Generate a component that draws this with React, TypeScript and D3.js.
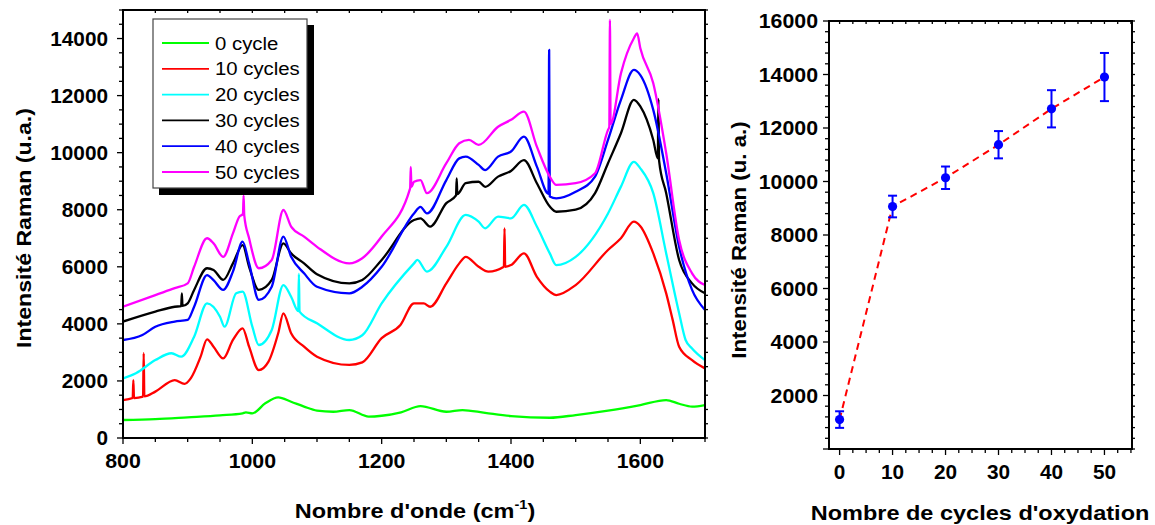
import React from 'react';
import * as d3 from 'd3';

type P = [number, number];

// ---- Left chart: Raman spectra (wavenumber cm-1, intensity u.a.) ----
const spectrum0: P[] = [[800,630],[850,660],[900,725],[950,795],[985,865],[990,900],[1000,865],[1020,1215],[1040,1425],[1060,1270],[1080,1100],[1100,960],[1125,920],[1150,980],[1180,750],[1200,780],[1230,900],[1260,1120],[1300,920],[1325,980],[1360,880],[1400,770],[1460,710],[1500,805],[1550,960],[1600,1155],[1640,1330],[1660,1200],[1680,1100],[1700,1155]];
const spectrum10: P[] = [[800,1330],[815,1400],[816,2030],[817,1400],[831,1450],[832,2970],[833,1460],[850,1625],[880,2030],[895,1900],[905,2100],[920,2850],[930,3460],[940,3200],[955,2790],[970,3435],[985,3845],[995,3200],[1010,2380],[1025,2675],[1040,3670],[1048,4370],[1060,3670],[1080,3200],[1100,2850],[1150,2560],[1170,2650],[1200,3500],[1229,3960],[1250,4720],[1265,4720],[1275,4600],[1300,5420],[1320,6120],[1330,6350],[1350,6000],[1365,5830],[1389,6000],[1390,7350],[1391,6000],[1400,6060],[1420,6470],[1440,5650],[1460,5130],[1470,5010],[1500,5360],[1550,6590],[1570,7000],[1590,7580],[1600,7420],[1620,6470],[1640,5070],[1650,4140],[1660,3200],[1680,2730],[1700,2440]];
const spectrum20: P[] = [[800,2090],[820,2270],[850,2730],[875,2970],[890,2850],[910,3550],[930,4720],[950,4250],[957,3900],[975,5070],[985,5130],[1000,3900],[1010,3260],[1030,3785],[1048,5360],[1060,4950],[1071,4450],[1072,5750],[1073,4430],[1100,4020],[1150,3435],[1170,3600],[1200,4720],[1250,6120],[1255,6240],[1270,5830],[1300,6700],[1330,7820],[1350,7580],[1360,7350],[1380,7760],[1400,7700],[1420,8170],[1440,7410],[1460,6470],[1470,6060],[1500,6350],[1550,7870],[1570,8810],[1590,9680],[1600,9450],[1620,8580],[1640,6470],[1660,4370],[1670,3435],[1680,3140],[1700,2730]];
const spectrum30: P[] = [[800,4080],[850,4430],[880,4600],[890,4620],[891,5070],[892,4630],[900,4720],[910,5190],[930,5950],[940,5890],[955,5540],[970,6120],[985,6760],[995,6000],[1010,5190],[1030,5540],[1048,6820],[1060,6470],[1080,6120],[1100,5740],[1150,5420],[1170,5540],[1200,6240],[1250,7640],[1260,7700],[1275,7410],[1300,8230],[1315,8500],[1316,9100],[1317,8550],[1330,8930],[1350,8980],[1360,8800],[1380,9160],[1400,9360],[1420,9740],[1440,8930],[1460,8110],[1470,7930],[1500,8000],[1530,8580],[1550,9630],[1570,10680],[1590,11850],[1600,11620],[1620,10445],[1627,9800],[1628,11880],[1629,9720],[1640,8580],[1660,6240],[1680,5420],[1700,5070]];
const spectrum40: P[] = [[800,3435],[830,3610],[850,3900],[880,4080],[900,4140],[910,4600],[930,5710],[940,5530],[955,5190],[970,5830],[985,6880],[995,6120],[1010,4840],[1030,5300],[1048,7060],[1060,6350],[1080,5770],[1100,5300],[1150,5070],[1170,5300],[1200,6000],[1250,7870],[1260,8100],[1270,7870],[1300,9040],[1320,9800],[1330,9860],[1350,9570],[1360,9390],[1380,9860],[1400,10040],[1420,10560],[1440,9510],[1458,8560],[1459,13600],[1460,8460],[1470,8400],[1500,8630],[1530,9160],[1550,10445],[1570,11850],[1590,12900],[1600,12720],[1620,11500],[1640,9280],[1660,6700],[1680,5190],[1700,4490]];
const spectrum50: P[] = [[800,4600],[850,5010],[880,5250],[900,5420],[910,6000],[930,7000],[940,6820],[955,6350],[970,7170],[980,7760],[985.5,7850],[986.5,8500],[987.5,7800],[995,7000],[1010,5950],[1030,6240],[1048,7990],[1060,7410],[1080,7060],[1100,6700],[1150,6120],[1170,6300],[1200,7060],[1244,8750],[1245,9500],[1246,8800],[1250,8980],[1260,9040],[1270,8580],[1300,9630],[1320,10330],[1335,10450],[1350,10270],[1380,10910],[1400,11150],[1420,11440],[1440,10210],[1460,9160],[1470,8870],[1500,8930],[1530,9280],[1550,10800],[1552,10900],[1553,14650],[1554,11000],[1570,12780],[1590,14010],[1595,14180],[1600,13660],[1620,12430],[1640,9980],[1660,6940],[1680,5770],[1700,5360]];

const legendLabels = ['0 cycle', '10 cycles', '20 cycles', '30 cycles', '40 cycles', '50 cycles'];
const seriesColors = ['#00ff00', '#ff0000', '#00ffff', '#000000', '#0000ff', '#ff00ff'];
const spectra = [spectrum0, spectrum10, spectrum20, spectrum30, spectrum40, spectrum50];

const leftXTicks = [800, 1000, 1200, 1400, 1600];
const leftYTicks = [0, 2000, 4000, 6000, 8000, 10000, 12000, 14000];

// ---- Right chart: intensity vs number of oxidation cycles ----
const cycles = [0, 10, 20, 30, 40, 50];
const intensity = [1100, 9065, 10140, 11375, 12718, 13905];
const intensityErr = [310, 405, 420, 510, 696, 900];
const rightXTicks = [0, 10, 20, 30, 40, 50];
const rightYTicks = [2000, 4000, 6000, 8000, 10000, 12000, 14000, 16000];

const FONT = 'Liberation Sans, Arial, Helvetica, sans-serif';

function T(props: { x: number; y: number; size: number; sx?: number; anchor?: string; rot?: number; weight?: string; children: any }) {
  const { x, y, size, sx = 1, anchor = 'middle', rot = 0, weight = 'bold', children } = props;
  return (
    <text
      transform={`translate(${x},${y}) rotate(${rot}) scale(${sx},1)`}
      fontSize={size}
      fontFamily={FONT}
      fontWeight={weight}
      textAnchor={anchor as any}
      fill="#000"
    >
      {children}
    </text>
  );
}

export default function App() {
  const xL = d3.scaleLinear().domain([800, 1700]).range([123, 705]);
  const yL = d3.scaleLinear().domain([0, 15000]).range([438, 10]);
  const xR = d3.scaleLinear().domain([-2, 55.2]).range([829, 1132]);
  const yR = d3.scaleLinear().domain([0, 16000]).range([449, 21]);

  const lineL = d3
    .line<P>()
    .x((d) => xL(d[0]))
    .y((d) => yL(d[1]))
    .curve(d3.curveMonotoneX);

  const lineR = d3
    .line<number>()
    .x((_, i) => xR(cycles[i]))
    .y((d) => yR(d));

  const [lx0, lx1] = xL.range();
  const [ly0, ly1] = [yL.range()[1], yL.range()[0]];
  const [rx0, rx1] = xR.range();
  const [ry0, ry1] = [yR.range()[1], yR.range()[0]];

  const lxMinor = d3.range(800, 1701, 50);
  const lyMinor = d3.range(0, 15001, 500);
  const rxMinor = d3.range(0, 55.01, 2.5);
  const ryMinor = d3.range(0, 16001, 400);

  return (
    <svg width={1155} height={525} style={{ position: 'absolute', left: 0, top: 0, background: '#fff' }}>
      <defs>
        <clipPath id="clipL">
          <rect x={lx0} y={ly0} width={lx1 - lx0} height={ly1 - ly0} />
        </clipPath>
      </defs>
      <rect x={0} y={0} width={1155} height={525} fill="#fff" />

      {/* ===== LEFT CHART ===== */}
      <g clipPath="url(#clipL)">
        {spectra.map((s, i) => (
          <path key={i} d={lineL(s) || ''} fill="none" stroke={seriesColors[i]} strokeWidth={2.3} strokeLinejoin="round" />
        ))}
      </g>

      <g stroke="#000" strokeWidth={1.3}>
        {lxMinor.map((v) => {
          const major = v % 200 === 0;
          const x = xL(v);
          return (
            <g key={'lx' + v}>
              <line x1={x} x2={x} y1={ly1} y2={ly1 + (major ? 6 : 4)} />
              <line x1={x} x2={x} y1={ly0} y2={ly0 + 3} />
            </g>
          );
        })}
        {lyMinor.map((v) => {
          const major = v % 2000 === 0;
          const y = yL(v);
          return (
            <g key={'ly' + v}>
              <line x1={lx0} x2={lx0 - (major ? 6 : 4)} y1={y} y2={y} />
              <line x1={lx1} x2={lx1 + 3} y1={y} y2={y} />
            </g>
          );
        })}
      </g>
      <rect x={lx0} y={ly0} width={lx1 - lx0} height={ly1 - ly0} fill="none" stroke="#000" strokeWidth={2} />

      {leftYTicks.map((v) => (
        <T key={'lyt' + v} x={108} y={yL(v) + 7.2} size={20} sx={1.04} anchor="end">
          {String(v)}
        </T>
      ))}
      {leftXTicks.map((v) => (
        <T key={'lxt' + v} x={xL(v)} y={468} size={20.5} sx={1.04}>
          {String(v)}
        </T>
      ))}
      <T x={31} y={228} size={21} sx={1.1} rot={-90}>
        Intensité Raman (u.a.)
      </T>
      <text
        transform={`translate(415,518) scale(1.12,1)`}
        fontSize={21}
        fontFamily={FONT}
        fontWeight="bold"
        textAnchor="middle"
      >
        Nombre d'onde (cm
        <tspan fontSize={13} dy={-9}>-1</tspan>
        <tspan dy={9}>)</tspan>
      </text>

      {/* legend */}
      <g>
        <rect x={159} y={25} width={155} height={170} fill="#000" />
        <rect x={153} y={19} width={154} height={169} fill="#fff" stroke="#444" strokeWidth={1.2} />
        {legendLabels.map((lab, i) => {
          const y = 43 + i * 25.8;
          return (
            <g key={lab}>
              <line x1={162} x2={209} y1={y} y2={y} stroke={seriesColors[i]} strokeWidth={1.8} />
              <T x={215} y={y + 6.6} size={18.5} sx={1.1} anchor="start" weight="normal">
                {lab}
              </T>
            </g>
          );
        })}
      </g>

      {/* ===== RIGHT CHART ===== */}
      <g stroke="#000" strokeWidth={1.3}>
        {rxMinor.map((v) => {
          const major = v % 10 === 0;
          const x = xR(v);
          return (
            <g key={'rx' + v}>
              <line x1={x} x2={x} y1={ry1} y2={ry1 + (major ? 6 : 4)} />
              <line x1={x} x2={x} y1={ry0} y2={ry0 + 3} />
            </g>
          );
        })}
        {ryMinor.map((v) => {
          const major = v % 2000 === 0;
          const y = yR(v);
          return (
            <g key={'ry' + v}>
              <line x1={rx0} x2={rx0 - (major ? 6 : 4)} y1={y} y2={y} />
              <line x1={rx1} x2={rx1 + 3} y1={y} y2={y} />
            </g>
          );
        })}
      </g>
      <rect x={rx0} y={ry0} width={rx1 - rx0} height={ry1 - ry0} fill="none" stroke="#000" strokeWidth={2} />

      <path d={lineR(intensity) || ''} fill="none" stroke="#ff0000" strokeWidth={2} strokeDasharray="7,5" />
      {cycles.map((c, i) => {
        const x = xR(c);
        const yt = yR(intensity[i] + intensityErr[i]);
        const yb = yR(intensity[i] - intensityErr[i]);
        return (
          <g key={'pt' + c} stroke="#0000ff" strokeWidth={2}>
            <line x1={x} x2={x} y1={yt} y2={yb} />
            <line x1={x - 4.5} x2={x + 4.5} y1={yt} y2={yt} />
            <line x1={x - 4.5} x2={x + 4.5} y1={yb} y2={yb} />
            <circle cx={x} cy={yR(intensity[i])} r={4.6} fill="#0000ff" stroke="none" />
          </g>
        );
      })}

      {rightYTicks.map((v) => (
        <T key={'ryt' + v} x={818} y={yR(v) + 7.2} size={20.5} sx={1.04} anchor="end">
          {String(v)}
        </T>
      ))}
      {rightXTicks.map((v) => (
        <T key={'rxt' + v} x={xR(v)} y={479} size={20} sx={1.04}>
          {String(v)}
        </T>
      ))}
      <T x={746} y={240} size={21} sx={1.06} rot={-90}>
        Intensité Raman (u. a.)
      </T>
      <T x={980} y={520} size={21} sx={1.12}>
        Nombre de cycles d'oxydation
      </T>
    </svg>
  );
}
